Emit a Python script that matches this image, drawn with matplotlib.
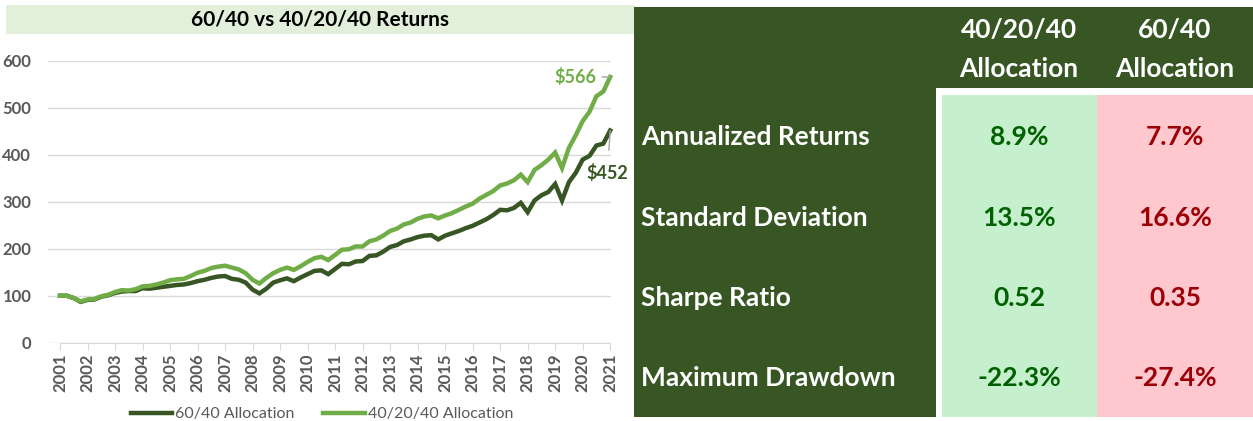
import numpy as np
import matplotlib
matplotlib.use("Agg")
import matplotlib.pyplot as plt
from matplotlib.patches import Rectangle

plt.rcParams['font.family'] = ['Lato', 'DejaVu Sans']

W, H = 1253, 421

# quarterly growth of $100, 2001Q1 .. 2021Q1
quarters = np.arange(2001, 2021.001, 0.25)
alloc_60_40 = [
    100, 100, 95, 87, 91, 92, 98, 101, 106, 109, 110, 110,
    116, 115, 117, 119, 121, 123, 124, 127, 131, 134, 138, 141,
    142, 136, 134, 128, 113, 105, 115, 128, 133, 137, 131, 139,
    146, 153, 154, 146, 157, 168, 167, 173, 174, 185, 186, 194,
    204, 208, 216, 220, 225, 228, 229, 220, 228, 233, 238, 244,
    249, 256, 263, 272, 283, 282, 287, 298, 278, 303, 314, 321,
    338, 303, 342, 362, 390, 398, 420, 424, 452,
]
alloc_40_20_40 = [
    100, 100, 95, 88, 92, 93, 99, 102, 108, 112, 111, 114,
    120, 121, 124, 128, 133, 135, 136, 142, 149, 153, 159, 162,
    164, 160, 156, 148, 134, 126, 138, 148, 155, 160, 155, 163,
    172, 180, 183, 176, 187, 198, 199, 205, 205, 216, 220, 228,
    238, 243, 252, 256, 264, 269, 271, 265, 271, 276, 283, 290,
    296, 307, 315, 323, 335, 339, 346, 358, 342, 368, 378, 390,
    405, 372, 415, 442, 472, 492, 525, 535, 566,
]
years = list(range(2001, 2022))

metrics = ["Annualized Returns", "Standard Deviation", "Sharpe Ratio", "Maximum Drawdown"]
col_headers = ["40/20/40\nAllocation", "60/40\nAllocation"]
vals_40_20_40 = ["8.9%", "13.5%", "0.52", "-22.3%"]
vals_60_40 = ["7.7%", "16.6%", "0.35", "-27.4%"]

DARK = "#375623"
LIGHT = "#70AD47"
GRAY_TXT = "#595959"


def fx(px):
    return px / W


def fy(py):
    return 1 - py / H


def box(x0, y0, x1, y1, color):
    fig.patches.append(Rectangle((fx(x0), fy(y1)), fx(x1) - fx(x0), fy(y0) - fy(y1),
                                 transform=fig.transFigure, facecolor=color,
                                 edgecolor='none', zorder=0))


fig = plt.figure(figsize=(W / 100, H / 100), dpi=100)

# title bar
box(6, 5, 635, 34, "#E2EFDA")
fig.text(fx(320), fy(20), "60/40 vs 40/20/40 Returns", ha='center', va='center',
         fontsize=15, fontweight='bold', color='black')

# line chart
ax = fig.add_axes([fx(48), fy(342.7), fx(611) - fx(48), fy(61) - fy(342.7)])
ax.plot(quarters, alloc_60_40, color=DARK, lw=3.2, label="60/40 Allocation",
        solid_joinstyle='miter', clip_on=False)
ax.plot(quarters, alloc_40_20_40, color=LIGHT, lw=3.2, label="40/20/40 Allocation",
        solid_joinstyle='miter', clip_on=False)
ax.set_xlim(2001 - 12 / 27.5, 2021.03)
ax.set_ylim(0, 600)
ax.set_yticks(range(0, 601, 100))
ax.set_xticks(years)
ax.set_xticklabels([str(y) for y in years], rotation=90)
ax.grid(axis='y', color='#D9D9D9', lw=1)
ax.set_axisbelow(True)
for s in ['top', 'right', 'left']:
    ax.spines[s].set_visible(False)
ax.spines['bottom'].set_color('#D9D9D9')
ax.spines['bottom'].set_bounds(2001, 2021)
ax.tick_params(axis='y', length=0, pad=12, labelsize=12, labelcolor=GRAY_TXT)
ax.tick_params(axis='x', length=5, color='#D9D9D9', direction='out', pad=3,
               labelsize=12, labelcolor=GRAY_TXT)
for lbl in ax.get_xticklabels() + ax.get_yticklabels():
    lbl.set_fontweight('bold')

# end labels
ax.annotate("$566", xy=(quarters[-1], alloc_40_20_40[-1]), xytext=(2020.5, 566),
            ha='right', va='center', fontsize=13, fontweight='bold', color=LIGHT,
            arrowprops=dict(arrowstyle='-', color='#A6A6A6', lw=1, shrinkA=2, shrinkB=0),
            annotation_clip=False)
ax.annotate("$452", xy=(quarters[-1], alloc_60_40[-1]), xytext=(2020.9, 361),
            ha='center', va='center', fontsize=13, fontweight='bold', color=DARK,
            arrowprops=dict(arrowstyle='-', color='#A6A6A6', lw=1, shrinkA=8, shrinkB=0),
            annotation_clip=False)

leg = fig.legend(loc='center', bbox_to_anchor=(fx(322), fy(414)), ncol=2, frameon=False,
                 fontsize=11.5, handlelength=2.6, columnspacing=1.8, handletextpad=0.2)
for t in leg.get_texts():
    t.set_color(GRAY_TXT)

# statistics table
box(634, 7, 1253, 417, DARK)
box(936, 88, 1253, 417, "white")
box(942, 95, 1097, 417, "#C6EFCE")
box(1097, 95, 1253, 417, "#FFC7CE")

col_x = [1019, 1175]
for cx, head in zip(col_x, col_headers):
    top, bottom = head.split("\n")
    fig.text(fx(cx), fy(30), top, ha='center', va='center', color='white',
             fontsize=19, fontweight='bold')
    fig.text(fx(cx), fy(69), bottom, ha='center', va='center', color='white',
             fontsize=19, fontweight='bold')

row_y = [137, 218, 298, 378]
for ry, name, v1, v2 in zip(row_y, metrics, vals_40_20_40, vals_60_40):
    fig.text(fx(641), fy(ry), name, ha='left', va='center', color='white',
             fontsize=19, fontweight='bold')
    fig.text(fx(col_x[0]), fy(ry), v1, ha='center', va='center', color='#006100',
             fontsize=19, fontweight='bold')
    fig.text(fx(col_x[1]), fy(ry), v2, ha='center', va='center', color='#9C0006',
             fontsize=19, fontweight='bold')

fig.savefig("out.png", dpi=100)
